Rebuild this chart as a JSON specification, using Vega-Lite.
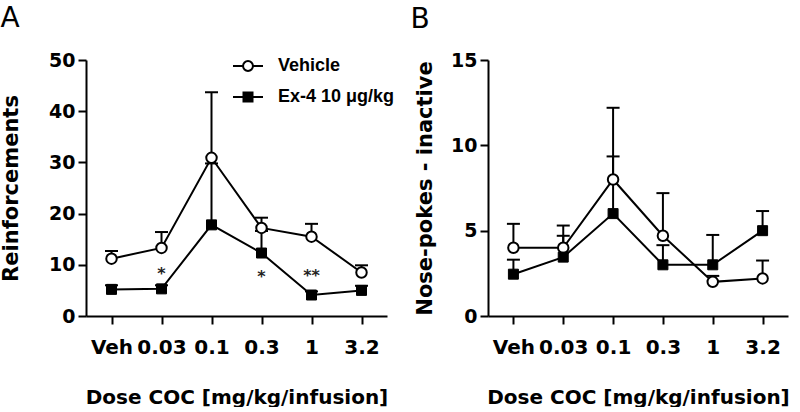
{
  "$schema": "https://vega.github.io/schema/vega-lite/v6.json",
  "background": "white",
  "padding": {"left": 0, "top": 5, "right": 5, "bottom": 0},
  "spacing": 15,
  "config": {
    "view": {"stroke": null},
    "font": "DejaVu Sans",
    "axis": {
      "grid": false,
      "domainColor": "black", "domainWidth": 2,
      "tickColor": "black", "tickWidth": 2, "tickSize": 8,
      "labelFont": "DejaVu Sans", "labelFontWeight": "bold", "labelFontSize": 19, "labelColor": "black",
      "titleFont": "DejaVu Sans", "titleFontWeight": "bold", "titleFontSize": 20, "titleColor": "black"
    },
    "title": {"font": "DejaVu Sans", "fontSize": 28, "fontWeight": "normal", "color": "black", "anchor": "start", "frame": "bounds", "offset": 17}
  },
  "resolve": {"scale": {"shape": "independent", "fill": "independent", "stroke": "independent"}},
  "hconcat": [
    {
      "width": 301, "height": 256,
      "title": {"text": "A", "dx": 0},
      "data": {"values": [
        {"dose": "Veh", "group": "Vehicle", "mean": 11.2, "upper": 12.7},
        {"dose": "0.03", "group": "Vehicle", "mean": 13.3, "upper": 16.4},
        {"dose": "0.1", "group": "Vehicle", "mean": 30.9, "upper": 43.7},
        {"dose": "0.3", "group": "Vehicle", "mean": 17.2, "upper": 19.2},
        {"dose": "1", "group": "Vehicle", "mean": 15.5, "upper": 18.0},
        {"dose": "3.2", "group": "Vehicle", "mean": 8.5, "upper": 9.9},
        {"dose": "Veh", "group": "Ex-4 10 μg/kg", "mean": 5.2, "upper": 6.0},
        {"dose": "0.03", "group": "Ex-4 10 μg/kg", "mean": 5.3, "upper": 6.0},
        {"dose": "0.1", "group": "Ex-4 10 μg/kg", "mean": 17.8, "upper": 29.8},
        {"dose": "0.3", "group": "Ex-4 10 μg/kg", "mean": 12.3, "upper": 16.6},
        {"dose": "1", "group": "Ex-4 10 μg/kg", "mean": 4.1, "upper": 4.8},
        {"dose": "3.2", "group": "Ex-4 10 μg/kg", "mean": 5.0, "upper": 5.9}
      ]},
      "encoding": {
        "x": {"field": "dose", "type": "ordinal", "sort": ["Veh", "0.03", "0.1", "0.3", "1", "3.2"],
          "scale": {"type": "point", "padding": 0.51},
          "axis": {"labelAngle": 0, "title": "Dose COC [mg/kg/infusion]", "labelFontSize": 20, "labelPadding": 13, "titlePadding": 30}}
      },
      "layer": [
        {"mark": {"type": "rule", "strokeWidth": 2, "color": "black"},
         "encoding": {
           "y": {"field": "mean", "type": "quantitative", "scale": {"domain": [0, 50], "nice": false},
             "axis": {"title": "Reinforcements", "values": [0, 10, 20, 30, 40, 50], "titleFontSize": 21, "labelPadding": 3, "titlePadding": 27}},
           "y2": {"field": "upper"}}},
        {"mark": {"type": "tick", "orient": "horizontal", "size": 13, "thickness": 2, "color": "black", "opacity": 1},
         "encoding": {"y": {"field": "upper", "type": "quantitative"}}},
        {"mark": {"type": "line", "strokeWidth": 2, "color": "black"},
         "encoding": {"y": {"field": "mean", "type": "quantitative"}, "detail": {"field": "group"}}},
        {"transform": [{"filter": "datum.group === 'Vehicle'"}],
         "mark": {"type": "point", "shape": "circle", "filled": true, "fill": "white", "stroke": "black", "strokeWidth": 2, "size": 110, "opacity": 1},
         "encoding": {"y": {"field": "mean", "type": "quantitative"}}},
        {"transform": [{"filter": "datum.group !== 'Vehicle'"}],
         "mark": {"type": "point", "shape": "square", "filled": true, "fill": "black", "stroke": "black", "strokeWidth": 1, "size": 100, "opacity": 1},
         "encoding": {"y": {"field": "mean", "type": "quantitative"}}},
        {"transform": [{"filter": "datum.mean < 0"}],
         "mark": {"type": "point", "filled": true, "strokeWidth": 2, "opacity": 1},
         "encoding": {
           "y": {"field": "mean", "type": "quantitative"},
           "shape": {"field": "group", "type": "nominal",
             "scale": {"domain": ["Vehicle", "Ex-4 10 μg/kg"], "range": ["M-1,0H-0.33M0.33,0H1M-0.33,0A0.33,0.33 0 1,1 0.33,0A0.33,0.33 0 1,1 -0.33,0Z", "M-1,0H1M-0.3,-0.3H0.3V0.3H-0.3Z"]},
             "legend": {"orient": "none", "legendX": 146, "legendY": -10, "title": null,
               "symbolSize": 900, "symbolStrokeWidth": 2, "symbolOpacity": 1,
               "labelFont": "Liberation Sans", "labelFontWeight": "bold", "labelFontSize": 18, "labelColor": "black",
               "rowPadding": 6, "labelOffset": 14}},
           "fill": {"field": "group", "type": "nominal",
             "scale": {"domain": ["Vehicle", "Ex-4 10 μg/kg"], "range": ["white", "black"]},
             "legend": {"orient": "none", "legendX": 146, "legendY": -10, "title": null,
               "symbolSize": 900, "symbolStrokeWidth": 2, "symbolOpacity": 1,
               "labelFont": "Liberation Sans", "labelFontWeight": "bold", "labelFontSize": 18, "labelColor": "black",
               "rowPadding": 6, "labelOffset": 14}},
           "stroke": {"field": "group", "type": "nominal",
             "scale": {"domain": ["Vehicle", "Ex-4 10 μg/kg"], "range": ["black", "black"]},
             "legend": {"orient": "none", "legendX": 146, "legendY": -10, "title": null,
               "symbolSize": 900, "symbolStrokeWidth": 2, "symbolOpacity": 1,
               "labelFont": "Liberation Sans", "labelFontWeight": "bold", "labelFontSize": 18, "labelColor": "black",
               "rowPadding": 6, "labelOffset": 14}}}},
        {"data": {"values": [
          {"dose": "0.03", "y": 8.3, "label": "*"},
          {"dose": "0.3", "y": 7.6, "label": "*"},
          {"dose": "1", "y": 7.9, "label": "**"}
        ]},
         "mark": {"type": "text", "fontSize": 16, "font": "DejaVu Sans", "fontWeight": "bold", "color": "#222", "baseline": "middle"},
         "encoding": {"y": {"field": "y", "type": "quantitative"}, "text": {"field": "label"}}}
      ]
    },
    {
      "width": 300, "height": 256,
      "title": {"text": "B", "dx": -4},
      "data": {"values": [
        {"dose": "Veh", "group": "Vehicle", "mean": 4.0, "upper": 5.4},
        {"dose": "0.03", "group": "Vehicle", "mean": 4.0, "upper": 5.3},
        {"dose": "0.1", "group": "Vehicle", "mean": 8.0, "upper": 12.2},
        {"dose": "0.3", "group": "Vehicle", "mean": 4.7, "upper": 7.2},
        {"dose": "1", "group": "Vehicle", "mean": 2.0, "upper": 2.35},
        {"dose": "3.2", "group": "Vehicle", "mean": 2.2, "upper": 3.25},
        {"dose": "Veh", "group": "Ex-4 10 μg/kg", "mean": 2.45, "upper": 3.3},
        {"dose": "0.03", "group": "Ex-4 10 μg/kg", "mean": 3.45, "upper": 4.7},
        {"dose": "0.1", "group": "Ex-4 10 μg/kg", "mean": 6.0, "upper": 9.35},
        {"dose": "0.3", "group": "Ex-4 10 μg/kg", "mean": 3.0, "upper": 4.15},
        {"dose": "1", "group": "Ex-4 10 μg/kg", "mean": 3.0, "upper": 4.75},
        {"dose": "3.2", "group": "Ex-4 10 μg/kg", "mean": 5.0, "upper": 6.15}
      ]},
      "encoding": {
        "x": {"field": "dose", "type": "ordinal", "sort": ["Veh", "0.03", "0.1", "0.3", "1", "3.2"],
          "scale": {"type": "point", "padding": 0.51},
          "axis": {"labelAngle": 0, "title": "Dose COC [mg/kg/infusion]", "labelFontSize": 20, "labelPadding": 13, "titlePadding": 30}}
      },
      "layer": [
        {"mark": {"type": "rule", "strokeWidth": 2, "color": "black"},
         "encoding": {
           "y": {"field": "mean", "type": "quantitative", "scale": {"domain": [0, 15], "nice": false},
             "axis": {"title": "Nose-pokes - inactive", "values": [0, 5, 10, 15], "titleFontSize": 21, "labelPadding": 3, "titlePadding": 15}},
           "y2": {"field": "upper"}}},
        {"mark": {"type": "tick", "orient": "horizontal", "size": 13, "thickness": 2, "color": "black", "opacity": 1},
         "encoding": {"y": {"field": "upper", "type": "quantitative"}}},
        {"mark": {"type": "line", "strokeWidth": 2, "color": "black"},
         "encoding": {"y": {"field": "mean", "type": "quantitative"}, "detail": {"field": "group"}}},
        {"transform": [{"filter": "datum.group === 'Vehicle'"}],
         "mark": {"type": "point", "shape": "circle", "filled": true, "fill": "white", "stroke": "black", "strokeWidth": 2, "size": 110, "opacity": 1},
         "encoding": {"y": {"field": "mean", "type": "quantitative"}}},
        {"transform": [{"filter": "datum.group !== 'Vehicle'"}],
         "mark": {"type": "point", "shape": "square", "filled": true, "fill": "black", "stroke": "black", "strokeWidth": 1, "size": 100, "opacity": 1},
         "encoding": {"y": {"field": "mean", "type": "quantitative"}}}
      ]
    }
  ]
}
